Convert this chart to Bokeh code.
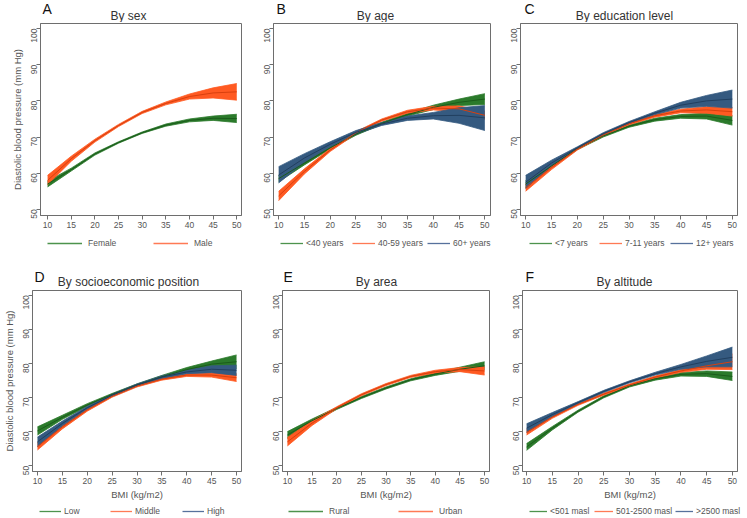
from bokeh.plotting import figure
from bokeh.layouts import column, row
from bokeh.models import Legend, LegendItem, FixedTicker, Range1d, Label
from bokeh.embed import file_html
from bokeh.resources import INLINE
import math

bmi = [10, 15, 20, 25, 30, 35, 40, 45, 50]
x_ticks = [10, 15, 20, 25, 30, 35, 40, 45, 50]
y_ticks = [50, 60, 70, 80, 90, 100]

# Panel A: by sex
female_est = [57.0, 61.0, 65.3, 68.5, 71.2, 73.3, 74.6, 75.2, 75.1]
female_lo = [56.2, 60.6, 65.0, 68.3, 71.0, 73.0, 74.2, 74.6, 74.0]
female_hi = [57.8, 61.4, 65.6, 68.7, 71.4, 73.6, 75.0, 75.8, 76.3]
male_est = [58.0, 64.0, 69.0, 73.2, 76.8, 79.3, 81.2, 82.2, 82.5]
male_lo = [56.8, 63.3, 68.6, 72.9, 76.5, 78.9, 80.5, 80.8, 80.2]
male_hi = [59.4, 64.7, 69.4, 73.5, 77.1, 79.7, 81.9, 83.6, 84.8]

# Panel B: by age
age1_est = [58.5, 62.8, 67.0, 70.8, 73.8, 76.2, 78.2, 79.6, 80.5]
age1_lo = [57.6, 62.3, 66.7, 70.5, 73.5, 75.8, 77.6, 78.7, 79.0]
age1_hi = [59.4, 63.3, 67.3, 71.1, 74.1, 76.6, 78.8, 80.5, 82.0]
age2_est = [53.7, 60.5, 66.4, 71.2, 74.7, 77.0, 78.0, 77.8, 76.0]
age2_lo = [52.4, 59.8, 66.0, 70.9, 74.4, 76.6, 77.5, 77.0, 74.8]
age2_hi = [55.0, 61.2, 66.8, 71.5, 75.0, 77.4, 78.5, 78.6, 77.2]
age3_est = [59.5, 64.2, 68.0, 71.3, 73.6, 75.2, 75.9, 76.0, 75.3]
age3_lo = [57.3, 63.0, 67.3, 70.8, 73.2, 74.6, 75.0, 73.8, 71.8]
age3_hi = [61.8, 65.4, 68.7, 71.8, 74.0, 75.8, 76.8, 78.1, 78.7]

# Panel C: by education level
edu1_est = [57.0, 62.0, 66.8, 70.3, 73.0, 74.8, 75.7, 75.8, 74.6]
edu1_lo = [56.0, 61.5, 66.5, 70.0, 72.7, 74.4, 75.2, 75.0, 73.3]
edu1_hi = [58.0, 62.5, 67.1, 70.6, 73.3, 75.2, 76.2, 76.6, 75.9]
edu2_est = [56.0, 61.6, 66.7, 70.6, 73.7, 75.9, 77.2, 77.5, 77.0]
edu2_lo = [55.0, 61.0, 66.4, 70.3, 73.4, 75.5, 76.7, 76.6, 75.8]
edu2_hi = [57.0, 62.2, 67.0, 70.9, 74.0, 76.3, 77.7, 78.4, 78.2]
edu3_est = [57.5, 62.8, 67.0, 70.9, 74.0, 76.6, 78.8, 80.0, 80.5]
edu3_lo = [55.8, 62.0, 66.7, 70.6, 73.7, 76.2, 78.0, 78.5, 78.0]
edu3_hi = [59.4, 63.6, 67.3, 71.2, 74.3, 77.0, 79.6, 81.5, 83.0]

# Panel D: by socioeconomic position
ses1_est = [60.2, 64.2, 67.8, 70.9, 73.7, 76.1, 78.2, 79.8, 80.5]
ses1_lo = [59.0, 63.6, 67.4, 70.6, 73.4, 75.7, 77.6, 78.9, 78.5]
ses1_hi = [61.4, 64.8, 68.2, 71.2, 74.0, 76.5, 78.8, 80.7, 82.5]
ses2_est = [55.6, 61.4, 66.4, 70.4, 73.4, 75.4, 76.6, 76.6, 75.8]
ses2_lo = [54.6, 60.8, 66.0, 70.1, 73.1, 75.1, 76.2, 76.0, 74.7]
ses2_hi = [56.8, 62.0, 66.8, 70.7, 73.7, 75.7, 77.0, 77.3, 77.0]
ses3_est = [57.0, 62.4, 67.0, 70.7, 73.7, 76.0, 77.5, 78.3, 78.0]
ses3_lo = [55.6, 61.7, 66.6, 70.4, 73.4, 75.6, 77.0, 77.3, 76.5]
ses3_hi = [58.4, 63.1, 67.4, 71.0, 74.0, 76.4, 78.0, 79.3, 79.5]

# Panel E: by area
rural_est = [59.0, 63.2, 66.8, 70.0, 72.8, 75.2, 76.9, 78.3, 79.3]
rural_lo = [58.0, 62.7, 66.5, 69.7, 72.5, 74.9, 76.5, 77.7, 78.2]
rural_hi = [60.0, 63.7, 67.1, 70.3, 73.1, 75.5, 77.3, 78.9, 80.5]
urban_est = [57.0, 62.5, 67.0, 70.8, 73.8, 76.2, 77.6, 78.2, 77.8]
urban_lo = [55.8, 61.8, 66.7, 70.5, 73.5, 75.9, 77.2, 77.6, 76.6]
urban_hi = [58.3, 63.2, 67.3, 71.1, 74.1, 76.5, 78.0, 78.8, 79.0]

# Panel F: by altitude
alt1_est = [55.5, 61.0, 66.0, 70.2, 73.4, 75.5, 76.8, 77.0, 76.2]
alt1_lo = [54.5, 60.5, 65.7, 69.9, 73.1, 75.1, 76.3, 76.2, 75.0]
alt1_hi = [56.5, 61.5, 66.3, 70.5, 73.7, 75.9, 77.3, 77.8, 77.5]
alt2_est = [59.8, 64.3, 68.0, 71.0, 73.7, 76.0, 77.8, 79.3, 80.5]
alt2_lo = [59.0, 63.9, 67.7, 70.7, 73.4, 75.7, 77.4, 78.3, 78.2]
alt2_hi = [60.6, 64.7, 68.3, 71.3, 74.0, 76.3, 78.2, 80.3, 82.8]
alt3_est = [61.0, 65.0, 68.5, 71.8, 74.6, 77.0, 79.0, 80.6, 81.8]
alt3_lo = [59.8, 64.4, 68.2, 71.5, 74.3, 76.6, 78.3, 79.0, 79.0]
alt3_hi = [62.3, 65.6, 68.8, 72.1, 74.9, 77.4, 79.7, 82.2, 84.8]

GREEN = ("#2b7a2b", "#1b5c1b", "#4d934d")
ORANGE = ("#ff5a22", "#d8400e", "#ff7a55")
BLUE = ("#355a80", "#213f5f", "#56719c")

FONT = "Liberation Sans"
GREY = "#555555"


def blank(w, h):
    f = figure(width=w, height=h, x_range=Range1d(0, 1), y_range=Range1d(0, 1),
               x_axis_type=None, y_axis_type=None, toolbar_location=None,
               output_backend="svg", min_border=0, outline_line_color=None,
               background_fill_color="white", border_fill_color="white")
    return f


def header(w, h, letter, title, lx, ly, tx, ty):
    f = blank(w, h)
    f.add_layout(Label(x=lx, y=ly, x_units="screen", y_units="screen", text=letter,
                       text_align="left", text_baseline="middle", text_font=FONT,
                       text_font_size="14px", text_color="#111111"))
    f.add_layout(Label(x=tx, y=ty, x_units="screen", y_units="screen", text=title,
                       text_align="center", text_baseline="middle", text_font=FONT,
                       text_font_size="12px", text_color="#333333"))
    return f


def legend_strip(w, h, entries, y, fs="8.5px"):
    # the key lines reuse the series data; it lies outside this strip's 0-1 range,
    # so only the legend keys are visible here
    f = blank(w, h)
    for (name, est, col, x, gw, st) in entries:
        r = f.line(x=bmi, y=est, line_color=col[2], line_width=1.3)
        f.add_layout(Legend(items=[LegendItem(label=name, renderers=[r])], location=(x, y),
                            orientation="horizontal", glyph_width=gw, glyph_height=10,
                            label_height=10, label_width=0, label_standoff=st, padding=0,
                            margin=0, spacing=0, border_line_color=None,
                            background_fill_alpha=0, label_text_font=FONT,
                            label_text_font_size=fs, label_text_color=GREY))
    return f


def panel(series, fw, fh, bl, br, bt, bb, xr, ylab=False, xlab=False):
    p = figure(frame_width=fw, frame_height=fh, min_border_left=bl, min_border_right=br,
               min_border_top=bt, min_border_bottom=bb, x_range=Range1d(*xr),
               y_range=Range1d(48.3, 101.4), output_backend="svg", toolbar_location=None,
               background_fill_color="white", border_fill_color="white")
    p.outline_line_color = "#6e6e6e"
    p.outline_line_width = 1
    p.xgrid.visible = False
    p.ygrid.visible = False
    for ax in (p.xaxis[0], p.yaxis[0]):
        ax.axis_line_color = "#6e6e6e"
        ax.major_tick_line_color = "#6e6e6e"
        ax.minor_tick_line_color = None
        ax.major_tick_out = 4
        ax.major_tick_in = 0
        ax.major_label_text_font = FONT
        ax.major_label_text_font_size = "8.5px"
        ax.major_label_text_color = GREY
        ax.major_label_standoff = 2
        ax.axis_label_text_font = FONT
        ax.axis_label_text_font_size = "9.5px"
        ax.axis_label_text_font_style = "normal"
        ax.axis_label_text_color = GREY
        ax.axis_label_standoff = 3
    p.xaxis.ticker = FixedTicker(ticks=x_ticks)
    p.yaxis.ticker = FixedTicker(ticks=y_ticks)
    p.yaxis.major_label_orientation = math.pi / 2
    if ylab:
        p.yaxis.axis_label = "Diastolic blood pressure (mm Hg)"
    if xlab:
        p.xaxis.axis_label = "BMI (kg/m2)"
        p.xaxis.axis_label_standoff = 2
    for (est, lo, hi, col) in series:
        p.varea(x=bmi, y1=lo, y2=hi, fill_color=col[0], fill_alpha=1.0)
        p.line(x=bmi, y=lo, line_color=col[0], line_width=0.8)
        p.line(x=bmi, y=hi, line_color=col[0], line_width=0.8)
    for (est, lo, hi, col) in series:
        p.line(x=bmi, y=est, line_color=col[1], line_width=1)
    return p


# ---- row 1 ----
hA = header(250, 22, "A", "By sex", 42, 14, 128, 7)
hB = header(247, 22, "B", "By age", 26, 14, 125, 7)
hC = header(250, 22, "C", "By education level", 27, 14, 127, 7)

pA = panel([(female_est, female_lo, female_hi, GREEN), (male_est, male_lo, male_hi, ORANGE)],
           201, 192, 40, 9, 1, 17, (8.5, 51.0), ylab=True)
pB = panel([(age1_est, age1_lo, age1_hi, GREEN), (age2_est, age2_lo, age2_hi, ORANGE),
            (age3_est, age3_lo, age3_hi, BLUE)], 217, 192, 23, 7, 1, 17, (9.0, 51.1))
pC = panel([(edu1_est, edu1_lo, edu1_hi, GREEN), (edu2_est, edu2_lo, edu2_hi, ORANGE),
            (edu3_est, edu3_lo, edu3_hi, BLUE)], 217, 192, 23, 10, 1, 17, (9.0, 51.0))

lA = legend_strip(250, 26, [("Female", female_est, GREEN, 47, 35, 6),
                            ("Male", male_est, ORANGE, 153, 35, 6)], 10)
lB = legend_strip(247, 26, [("<40 years", age1_est, GREEN, 30, 23, 3),
                            ("40-59 years", age2_est, ORANGE, 102, 23, 3),
                            ("60+ years", age3_est, BLUE, 177, 23, 3)], 10)
lC = legend_strip(250, 26, [("<7 years", edu1_est, GREEN, 32, 23, 3),
                            ("7-11 years", edu2_est, ORANGE, 102, 23, 3),
                            ("12+ years", edu3_est, BLUE, 173, 23, 3)], 10)

# ---- row 2 ----
hD = header(250, 31, "D", "By socioeconomic position", 34, 13, 128, 8)
hE = header(247, 31, "E", "By area", 33, 13, 126, 8)
hF = header(250, 31, "F", "By altitude", 28, 13, 127, 8)

pD = panel([(ses1_est, ses1_lo, ses1_hi, GREEN), (ses2_est, ses2_lo, ses2_hi, ORANGE),
            (ses3_est, ses3_lo, ses3_hi, BLUE)], 209, 181, 32, 9, 1, 30, (9.0, 51.0),
           ylab=True, xlab=True)
pE = panel([(rural_est, rural_lo, rural_hi, GREEN), (urban_est, urban_lo, urban_hi, ORANGE)],
           207, 181, 32, 8, 1, 30, (9.0, 51.0), xlab=True)
pF = panel([(alt1_est, alt1_lo, alt1_hi, GREEN), (alt2_est, alt2_lo, alt2_hi, ORANGE),
            (alt3_est, alt3_lo, alt3_hi, BLUE)], 215, 181, 25, 10, 1, 30, (9.2, 51.0),
           xlab=True)

lD = legend_strip(250, 17, [("Low", ses1_est, GREEN, 39, 22, 3),
                            ("Middle", ses2_est, ORANGE, 110, 22, 3),
                            ("High", ses3_est, BLUE, 182, 22, 3)], 3)
lE = legend_strip(247, 17, [("Rural", rural_est, GREEN, 38, 35, 6),
                            ("Urban", urban_est, ORANGE, 148, 35, 6)], 3)
lF = legend_strip(250, 17, [("<501 masl", alt1_est, GREEN, 32, 18, 3),
                            ("501-2500 masl", alt2_est, ORANGE, 97, 19, 3),
                            (">2500 masl", alt3_est, BLUE, 178, 18, 3)], 3)

layout = column(
    row(hA, hB, hC, spacing=0),
    row(pA, pB, pC, spacing=0),
    row(lA, lB, lC, spacing=0),
    row(hD, hE, hF, spacing=0),
    row(pD, pE, pF, spacing=0),
    row(lD, lE, lF, spacing=0),
    spacing=0,
)

with open("out.html", "w") as f:
    f.write(file_html(layout, INLINE))
